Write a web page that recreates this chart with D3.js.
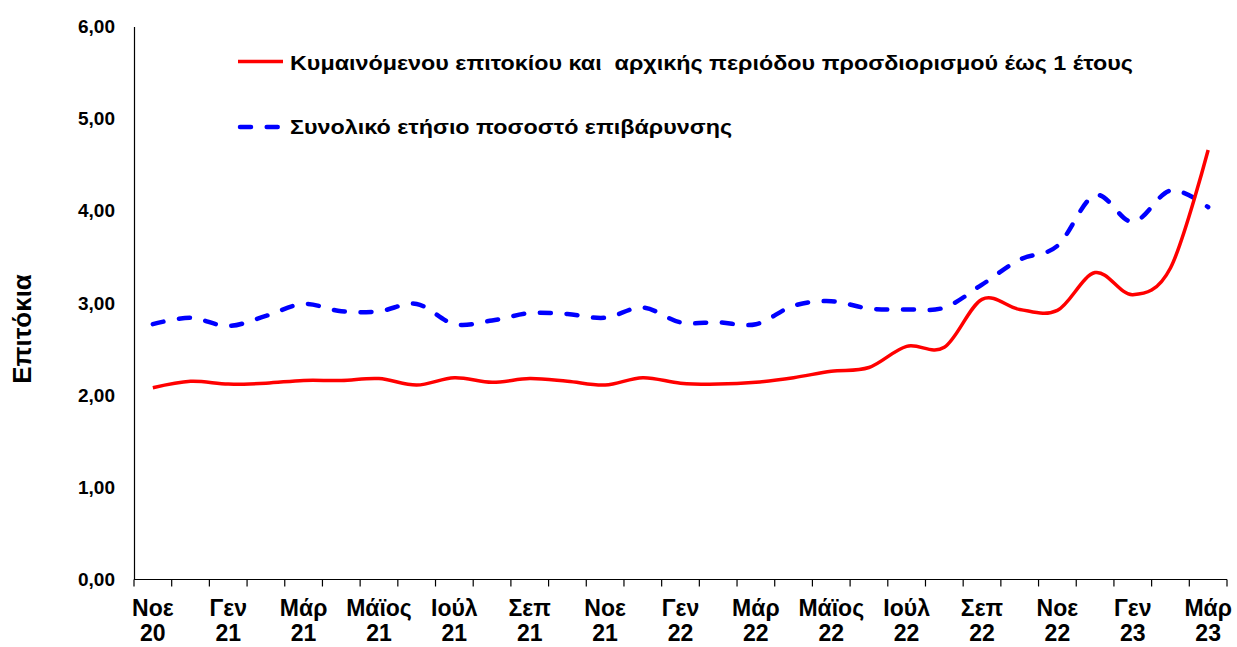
<!DOCTYPE html>
<html>
<head>
<meta charset="utf-8">
<script src="https://cdn.jsdelivr.net/npm/d3@7"></script>
<style>
  html, body { margin: 0; padding: 0; background: #fff; }
  svg { display: block; }
</style>
</head>
<body>
<svg id="chart" width="1237" height="647"></svg>
<script>
// ---- Data ----
const monthNames = ["Νοε","Δεκ","Γεν","Φεβ","Μάρ","Απρ","Μάϊος","Ιούν","Ιούλ","Αύγ","Σεπ","Οκτ",
                    "Νοε","Δεκ","Γεν","Φεβ","Μάρ","Απρ","Μάϊος","Ιούν","Ιούλ","Αύγ","Σεπ","Οκτ",
                    "Νοε","Δεκ","Γεν","Φεβ","Μάρ"];
const years = ["20","20","21","21","21","21","21","21","21","21","21","21",
               "21","21","22","22","22","22","22","22","22","22","22","22",
               "22","22","23","23","23"];
const floatingRate = [2.08,2.15,2.12,2.13,2.16,2.16,2.18,2.11,2.19,2.14,2.18,2.15,
                      2.11,2.19,2.13,2.12,2.14,2.19,2.26,2.30,2.53,2.52,3.04,2.93,
                      2.92,3.33,3.09,3.38,4.66];
const totalAnnualRate = [2.77,2.84,2.75,2.86,2.99,2.91,2.91,2.99,2.77,2.81,2.89,2.88,
                         2.84,2.95,2.79,2.79,2.77,2.97,3.02,2.94,2.93,2.95,3.20,3.47,
                         3.62,4.17,3.88,4.22,4.04];
const yTicks = [0,1,2,3,4,5,6];
const seriesNames = ["Κυμαινόμενου επιτοκίου και  αρχικής περιόδου προσδιορισμού έως 1 έτους",
                     "Συνολικό ετήσιο ποσοστό επιβάρυνσης"];
const yTitle = "Επιτόκια";

// ---- Layout ----
const svg = d3.select("#chart");
const mLeft = 134, mRight = 1227, mTop = 26.5, mBottom = 579.5;
const idx = d3.range(monthNames.length);
const x = d3.scaleBand().domain(idx).range([mLeft, mRight]).padding(0);
const y = d3.scaleLinear().domain([0, 6]).range([mBottom, mTop]);
const fmt = v => d3.format(".2f")(v).replace(".", ",");
const axisFont = "'Liberation Sans', Arial, sans-serif";

// Y axis (line + labels, no tick marks)
const yAxis = svg.append("g").attr("transform", `translate(${mLeft},0)`)
  .call(d3.axisLeft(y).tickValues(yTicks).tickFormat(fmt).tickSize(0).tickPadding(19));
yAxis.select(".domain").attr("stroke", "#000").attr("stroke-width", 1.2);
yAxis.selectAll("text").attr("font-family", axisFont).attr("font-weight", "bold")
  .attr("font-size", "19px").attr("fill", "#000");

// X axis line with ticks at band boundaries
const xAxisG = svg.append("g");
xAxisG.append("line").attr("x1", mLeft).attr("x2", mRight).attr("y1", mBottom).attr("y2", mBottom)
  .attr("stroke", "#000").attr("stroke-width", 1.2);
const boundaries = idx.map(i => x(i)).concat([x(idx[idx.length - 1]) + x.bandwidth()]);
xAxisG.selectAll("line.tick").data(boundaries).enter().append("line")
  .attr("class", "tick")
  .attr("x1", d => d).attr("x2", d => d)
  .attr("y1", mBottom).attr("y2", mBottom + 7)
  .attr("stroke", "#000").attr("stroke-width", 1.2);

const labelIdx = idx.filter(i => i % 2 === 0);
const lbl = xAxisG.selectAll("text.xl").data(labelIdx).enter().append("text")
  .attr("class", "xl")
  .attr("text-anchor", "middle")
  .attr("font-family", axisFont).attr("font-weight", "bold").attr("font-size", "23px")
  .attr("fill", "#000");
lbl.append("tspan").attr("x", i => x(i) + x.bandwidth() / 2).attr("y", 616).text(i => monthNames[i]);
lbl.append("tspan").attr("x", i => x(i) + x.bandwidth() / 2).attr("y", 641).text(i => years[i]);

// Y title
svg.append("text")
  .attr("transform", "translate(31,329) rotate(-90)")
  .attr("text-anchor", "middle")
  .attr("font-family", axisFont).attr("font-weight", "bold").attr("font-size", "26px")
  .attr("fill", "#000")
  .text(yTitle);

// Lines
const line = vals => d3.line()
  .x((d, i) => x(i) + x.bandwidth() / 2)
  .y(d => y(d))
  .curve(d3.curveCardinal.tension(0))(vals);

svg.append("path").attr("d", line(totalAnnualRate))
  .attr("fill", "none").attr("stroke", "#0000ff").attr("stroke-width", 4.5)
  .attr("stroke-dasharray", "11,15.7").attr("stroke-linecap", "round");

svg.append("path").attr("d", line(floatingRate))
  .attr("fill", "none").attr("stroke", "#ff0000").attr("stroke-width", 3.5)
  .attr("stroke-linejoin", "round");

// Legend
const legFont = axisFont;
const leg = svg.append("g");
leg.append("line").attr("x1", 238).attr("x2", 283).attr("y1", 61.5).attr("y2", 61.5)
  .attr("stroke", "#ff0000").attr("stroke-width", 3.5);
leg.append("line").attr("x1", 240).attr("x2", 280).attr("y1", 127).attr("y2", 127)
  .attr("stroke", "#0000ff").attr("stroke-width", 4.5)
  .attr("stroke-dasharray", "11,15.7").attr("stroke-linecap", "round");
const t1 = leg.append("text").attr("x", 290).attr("y", 69.5)
  .attr("font-family", legFont).attr("font-weight", "bold").attr("font-size", "21px")
  .attr("fill", "#000").style("white-space", "pre")
  .text(seriesNames[0]);
const t2 = leg.append("text").attr("x", 290).attr("y", 133.5)
  .attr("font-family", legFont).attr("font-weight", "bold").attr("font-size", "21px")
  .attr("fill", "#000")
  .text(seriesNames[1]);
const w1 = t1.node().getComputedTextLength();
const w2 = t2.node().getComputedTextLength();
const k = 843 / w1;
t1.attr("textLength", 843).attr("lengthAdjust", "spacingAndGlyphs");
t2.attr("textLength", w2 * k).attr("lengthAdjust", "spacingAndGlyphs");
</script>
</body>
</html>
